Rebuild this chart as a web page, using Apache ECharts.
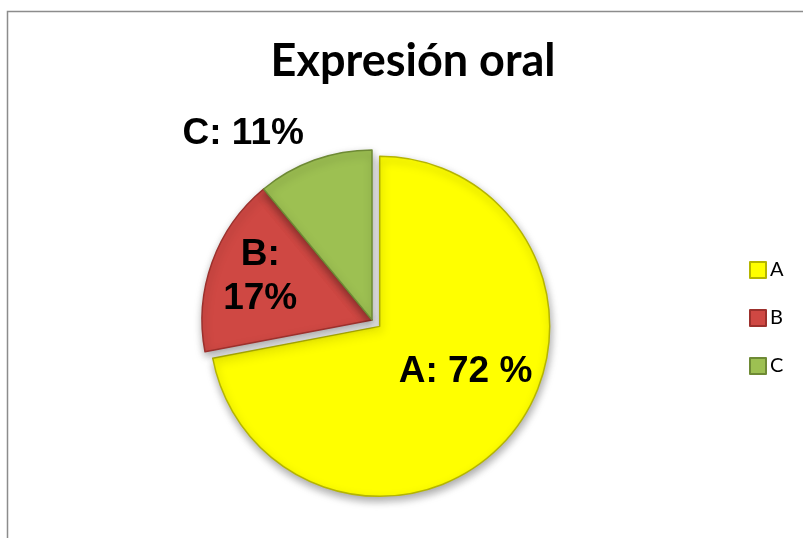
<!DOCTYPE html>
<html>
<head>
<meta charset="utf-8">
<script src="https://cdn.jsdelivr.net/npm/echarts@6/dist/echarts.min.js"></script>
<style>
  html, body { margin: 0; padding: 0; background: #fff; }
  #chart { width: 803px; height: 538px; }
</style>
</head>
<body>
<div id="chart"></div>
<script>
// datos
const categories = ['A', 'B', 'C'];
const values = [72, 17, 11];
const labelFormats = ['{b}: {c} %', '{b}:\n{c}%', '{b}: {c}%'];
const colors = ['#FFFF00', '#CF4843', '#9DC052'];
const borders = ['#B5B500', '#9C302C', '#6E8A35'];
// ajuste de cada etiqueta respecto a su posicion interior
const labelShift = [[18, -11], [-29, -13], [-99, -103]];

const chart = echarts.init(document.getElementById('chart'));

chart.setOption({
  animation: false,
  title: {
    text: 'Expresión oral',
    left: 408,
    top: 34,
    textAlign: 'center',
    textStyle: {
      fontFamily: 'Lato',
      fontWeight: 'bold',
      fontSize: 45,
      color: '#000',
    },
  },
  legend: {
    orient: 'vertical',
    left: 744,
    top: 255,
    itemGap: 28,
    itemWidth: 16,
    itemHeight: 16,
    icon: 'rect',
    data: categories,
    textStyle: {
      fontFamily: 'Lato',
      fontSize: 20,
      color: '#000',
      padding: [0, 0, 0, -1],
    },
  },
  graphic: [
    {
      type: 'rect',
      shape: { x: 7.5, y: 11.5, width: 900, height: 600 },
      style: { fill: 'none', stroke: '#8c8c8c', lineWidth: 1.5 },
      silent: true,
    },
  ],
  series: [
    {
      type: 'pie',
      center: [372, 320],
      radius: 170,
      startAngle: 90,
      selectedMode: 'single',
      selectedOffset: 10,
      label: {
        show: true,
        position: 'inside',
        fontFamily: 'Liberation Sans',
        fontWeight: 'bold',
        fontSize: 37,
        lineHeight: 44,
        color: '#000',
        align: 'center',
      },
      labelLine: { show: false },
      labelLayout: function (p) {
        const s = labelShift[p.dataIndex];
        return { dx: s[0], dy: s[1] };
      },
      itemStyle: {
        borderWidth: 1.5,
        shadowBlur: 8,
        shadowOffsetX: 1,
        shadowOffsetY: 4,
        shadowColor: 'rgba(0,0,0,0.35)',
      },
      emphasis: { disabled: true },
      data: categories.map((c, i) => ({
        name: c,
        value: values[i],
        selected: i === 0,
        itemStyle: { color: colors[i], borderColor: borders[i] },
        label: { formatter: labelFormats[i] },
      })),
    },
  ],
});
</script>
</body>
</html>
